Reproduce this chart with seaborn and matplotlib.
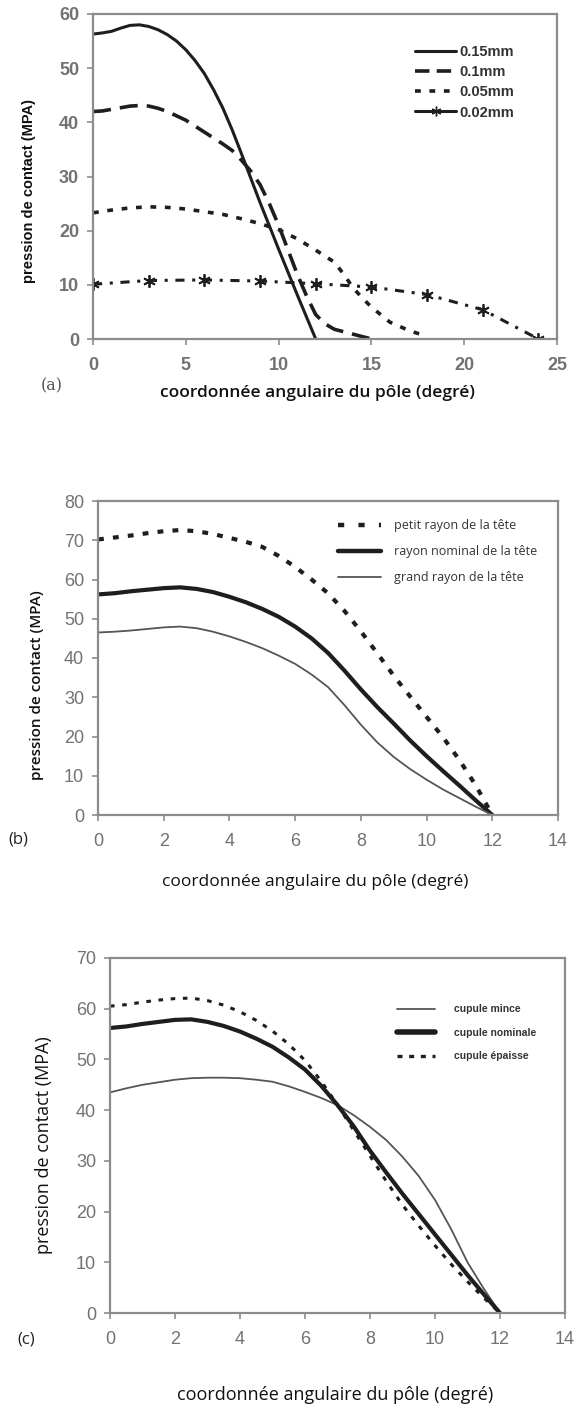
import numpy as np
import pandas as pd
import matplotlib
matplotlib.use("Agg")
import matplotlib.pyplot as plt
import seaborn as sns
from matplotlib.lines import Line2D

# ---------------- data ----------------
# panel (a): clearance
a_x_015 = [0, 0.5, 1, 1.5, 2, 2.5, 3, 3.5, 4, 4.5, 5, 5.5, 6, 6.5, 7, 7.5, 8, 9, 10, 11, 12]
a_y_015 = [56.3, 56.5, 56.8, 57.4, 57.9, 58.0, 57.7, 57.1, 56.2, 55.0, 53.4, 51.4, 49.0, 46.0,
           42.6, 38.6, 34.2, 25.2, 16.6, 8.2, 0.0]
a_x_010 = [0, 0.5, 1, 2, 2.5, 3, 3.5, 4, 5, 6, 7, 7.5, 8, 8.5, 9, 9.5, 10, 10.5, 11, 11.5, 12,
           12.5, 13, 14, 15]
a_y_010 = [42.0, 42.1, 42.4, 43.0, 43.1, 43.0, 42.6, 42.0, 40.4, 38.2, 36.0, 34.8, 33.0, 31.0,
           28.5, 25.0, 21.0, 16.5, 12.0, 8.0, 4.5, 2.8, 1.8, 0.9, 0.0]
a_x_005 = [0, 1, 2, 3, 4, 5, 6, 7, 8, 9, 10, 11, 12, 13, 13.5, 14, 14.5, 15, 16, 17, 17.7]
a_y_005 = [23.3, 23.8, 24.2, 24.4, 24.3, 24.0, 23.5, 23.0, 22.2, 21.3, 20.2, 18.5, 16.4, 14.2,
           12.0, 9.5, 7.6, 5.9, 3.1, 1.6, 0.8]
a_x_002 = [0, 3, 6, 9, 12, 15, 18, 21, 24]
a_y_002 = [10.1, 10.8, 10.9, 10.7, 10.2, 9.6, 8.2, 5.4, 0.0]
a_labels = ["0.15mm", "0.1mm", "0.05mm", "0.02mm"]

# panel (b): head radius
b_x = [0, 0.5, 1, 1.5, 2, 2.5, 3, 3.5, 4, 4.5, 5, 5.5, 6, 6.5, 7, 7.5, 8, 8.5, 9, 9.5, 10,
       10.5, 11, 11.5, 12]
b_petit = [70.2, 70.7, 71.2, 71.8, 72.3, 72.6, 72.3, 71.6, 70.6, 69.6, 68.3, 66.0, 63.2, 60.0,
           56.5, 52.0, 46.8, 41.2, 35.5, 30.2, 25.0, 19.8, 14.0, 7.5, 0.0]
b_nominal = [56.2, 56.5, 57.0, 57.4, 57.8, 58.0, 57.6, 56.8, 55.6, 54.2, 52.5, 50.5, 48.0, 45.0,
             41.3, 36.8, 32.0, 27.5, 23.3, 19.0, 15.0, 11.2, 7.5, 3.7, 0.0]
b_grand = [46.5, 46.7, 47.0, 47.4, 47.8, 48.0, 47.6, 46.7, 45.5, 44.1, 42.5, 40.6, 38.5, 35.8,
           32.6, 28.0, 23.0, 18.5, 14.8, 11.7, 9.0, 6.5, 4.3, 2.1, 0.0]
b_labels = ["petit rayon de la tête", "rayon nominal de la tête", "grand rayon de la tête"]

# panel (c): cup thickness
c_x = [0, 0.5, 1, 1.5, 2, 2.5, 3, 3.5, 4, 4.5, 5, 5.5, 6, 6.5, 7, 7.5, 8, 8.5, 9, 9.5, 10,
       10.5, 11, 11.5, 12]
c_mince = [43.5, 44.3, 45.0, 45.5, 46.0, 46.3, 46.4, 46.4, 46.3, 46.0, 45.6, 44.7, 43.6, 42.4,
           41.0, 39.0, 36.7, 34.1, 30.8, 27.0, 22.3, 16.5, 10.0, 4.8, 0.0]
c_nominal = [56.2, 56.5, 57.0, 57.4, 57.8, 57.9, 57.4, 56.6, 55.5, 54.1, 52.5, 50.4, 48.0, 44.8,
             41.0, 36.8, 32.0, 27.7, 23.5, 19.5, 15.5, 11.5, 7.5, 3.7, 0.0]
c_epaisse = [60.5, 60.8, 61.3, 61.7, 62.0, 62.1, 61.6, 60.7, 59.4, 57.7, 55.6, 53.0, 49.8, 45.7,
             41.0, 36.0, 31.0, 26.0, 21.3, 17.2, 13.3, 9.6, 6.2, 3.0, 0.0]
c_labels = ["cupule mince", "cupule nominale", "cupule épaisse"]

xlabel_txt = "coordonnée angulaire du pôle (degré)"
ylabel_txt = "pression de contact (MPA)"

# ---------------- style ----------------
sns.set_theme(style="white")
plt.rcParams["font.family"] = ["Liberation Sans", "DejaVu Sans"]

W, H = 577, 1408
fig = plt.figure(figsize=(W / 100, H / 100), dpi=100)
fig.patch.set_facecolor("white")

LC = "#1e1e1e"
SPC = "#8c8c8c"
TKC = "#727272"
OS = ["Open Sans", "DejaVu Sans"]


def style_axes(ax, xmax, xstep, ymax, ystep, bold):
    ax.set_xlim(0, xmax)
    ax.set_ylim(0, ymax)
    ax.set_xticks(np.arange(0, xmax + 0.01, xstep))
    ax.set_yticks(np.arange(0, ymax + 0.01, ystep))
    for s in ax.spines.values():
        s.set_visible(True)
        s.set_color(SPC)
        s.set_linewidth(1.6)
    ax.tick_params(axis="both", direction="out", length=4, width=1.2, color=SPC,
                   labelcolor=TKC, labelsize=13, bottom=True, left=True)
    ax.tick_params(axis="x", pad=9)
    ax.tick_params(axis="y", pad=6)
    if bold:
        for t in ax.get_xticklabels() + ax.get_yticklabels():
            t.set_fontweight("bold")
    ax.set_xlabel("")
    ax.set_ylabel("")
    ax.grid(False)


def px_axes(l, r, t, b):
    return fig.add_axes([l / W, 1 - b / H, (r - l) / W, (b - t) / H])


# ---------------- panel (a) ----------------
axa = px_axes(93, 557, 14, 339)
sns.lineplot(x=a_x_015, y=a_y_015, ax=axa, color=LC, lw=2.2, linestyle="-")
sns.lineplot(x=a_x_010, y=a_y_010, ax=axa, color=LC, lw=2.6, linestyle=(0, (5, 2.5)))
sns.lineplot(x=a_x_005, y=a_y_005, ax=axa, color=LC, lw=2.6, linestyle=(0, (1.6, 2.4)))
sns.lineplot(x=a_x_002, y=a_y_002, ax=axa, color=LC, lw=2.2, linestyle=(0, (3, 2.5, 1, 2.5)),
             marker=(6, 2, 0), markersize=9, markeredgewidth=1.3, markeredgecolor=LC)
style_axes(axa, 25, 5, 60, 10, True)
ha = [Line2D([], [], color=LC, lw=2.2, linestyle="-"),
      Line2D([], [], color=LC, lw=2.6, linestyle=(0, (4, 2))),
      Line2D([], [], color=LC, lw=2.6, linestyle=(0, (1.6, 2.4))),
      Line2D([], [], color=LC, lw=2.2, linestyle="-", marker=(6, 2, 0), markersize=7)]
leg = axa.legend(ha, a_labels, loc="upper left", bbox_to_anchor=(402 / W, 1 - 32 / H),
                 bbox_transform=fig.transFigure, frameon=False, handlelength=2.8,
                 handletextpad=0.2, labelspacing=0.42, prop={"weight": "bold", "size": 10.5})
for t in leg.get_texts():
    t.set_color("#333333")
fig.text(29 / W, 1 - 191 / H, ylabel_txt, rotation=90, ha="center", va="center",
         fontsize=10.5, fontweight="bold", color="#111111")
fig.text(318 / W, 1 - 393 / H, xlabel_txt, ha="center", va="center", fontsize=12.5,
         family=OS, fontweight="semibold", color="#111111")
fig.text(52 / W, 1 - 386 / H, "(a)", ha="center", va="center", fontsize=11.5,
         family=["DejaVu Serif"], color="#555555")

# ---------------- panel (b) ----------------
axb = px_axes(98, 558, 501, 815)
sns.lineplot(x=b_x, y=b_petit, ax=axb, color=LC, lw=3.0, linestyle=(0, (1.4, 2.2)))
sns.lineplot(x=b_x, y=b_nominal, ax=axb, color=LC, lw=3.0, linestyle="-")
sns.lineplot(x=b_x, y=b_grand, ax=axb, color="#555555", lw=1.3, linestyle="-")
style_axes(axb, 14, 2, 80, 10, False)
hb = [Line2D([], [], color=LC, lw=3.2, linestyle=(0, (1.4, 3.2))),
      Line2D([], [], color=LC, lw=3.2, linestyle="-"),
      Line2D([], [], color="#555555", lw=1.3, linestyle="-")]
legb = axb.legend(hb, b_labels, loc="upper left", bbox_to_anchor=(327 / W, 1 - 508 / H),
                  bbox_transform=fig.transFigure, frameon=False, handlelength=3.4,
                  handletextpad=1.1, labelspacing=1.05,
                  prop={"family": OS, "size": 9})
for t in legb.get_texts():
    t.set_color("#333333")
fig.text(37 / W, 1 - 685 / H, ylabel_txt, rotation=90, ha="center", va="center",
         fontsize=11, family=OS, fontweight="semibold", color="#111111")
fig.text(315 / W, 1 - 882 / H, xlabel_txt, ha="center", va="center", fontsize=12.5,
         family=OS, color="#111111")
fig.text(18 / W, 1 - 840 / H, "(b)", ha="center", va="center", fontsize=12,
         family=OS, color="#222222")

# ---------------- panel (c) ----------------
axc = px_axes(110, 565, 958, 1313)
sns.lineplot(x=c_x, y=c_mince, ax=axc, color="#555555", lw=1.3, linestyle="-")
sns.lineplot(x=c_x, y=c_nominal, ax=axc, color=LC, lw=3.0, linestyle="-")
sns.lineplot(x=c_x, y=c_epaisse, ax=axc, color=LC, lw=2.2, linestyle=(0, (1.5, 2.5)))
style_axes(axc, 14, 2, 70, 10, False)
hc = [Line2D([], [], color="#555555", lw=1.3, linestyle="-"),
      Line2D([], [], color=LC, lw=4.0, linestyle="-"),
      Line2D([], [], color=LC, lw=2.4, linestyle=(0, (1.5, 2.0)))]
legc = axc.legend(hc, c_labels, loc="upper left", bbox_to_anchor=(388 / W, 1 - 995 / H),
                  bbox_transform=fig.transFigure, frameon=False, handlelength=3.6,
                  handletextpad=1.8, labelspacing=1.3,
                  prop={"weight": "bold", "size": 7.5})
for t in legc.get_texts():
    t.set_color("#333333")
fig.text(44 / W, 1 - 1145 / H, ylabel_txt, rotation=90, ha="center", va="center",
         fontsize=13, family=OS, color="#111111")
fig.text(335 / W, 1 - 1395 / H, xlabel_txt, ha="center", va="center", fontsize=13,
         family=OS, color="#111111")
fig.text(26 / W, 1 - 1340 / H, "(c)", ha="center", va="center", fontsize=12,
         family=OS, color="#222222")

fig.savefig("out.png", dpi=100, facecolor="white")
